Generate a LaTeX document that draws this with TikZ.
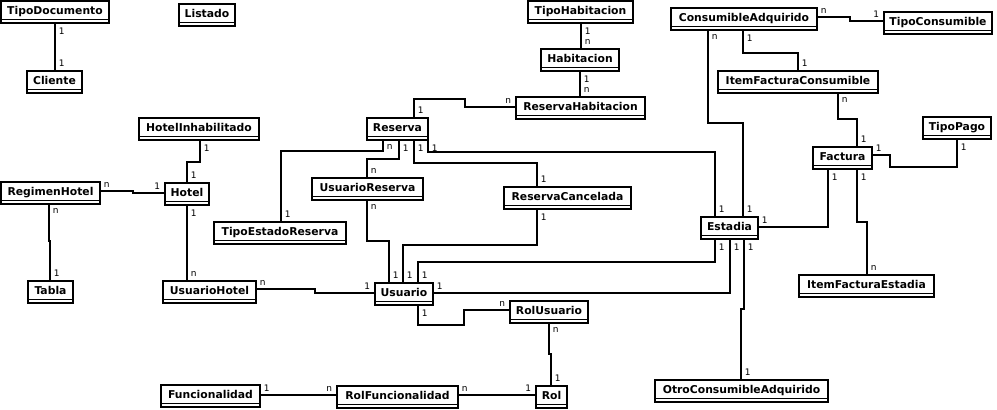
\documentclass[tikz,border=0pt]{standalone}
\usepackage{fontspec}
\setsansfont{DejaVu Sans}
\usepackage{tikz}

\begin{document}
\begin{tikzpicture}[x=1pt,y=-1pt]
    \tikzset{entity/.style={draw, rectangle, line width=1.8pt, anchor=north west, minimum height=22pt, inner sep=0pt, outer sep=0pt,
        text height=8pt, text depth=3pt, font=\sffamily\bfseries\fontsize{10.8}{12}\selectfont,
        path picture={\draw[line width=1.5pt] ([yshift=3.3pt]path picture bounding box.south west) -- ([yshift=3.3pt]path picture bounding box.south east);}},
    card/.style={inner sep=0pt, font=\sffamily\fontsize{9}{10}\selectfont},
    cb/.style={card, anchor=north west, xshift=3pt, yshift=-4pt},
    ct/.style={card, anchor=south west, xshift=3pt, yshift=4pt},
    cr/.style={card, anchor=south west, xshift=3pt, yshift=3pt},
    cl/.style={card, anchor=south east, xshift=-4pt, yshift=3pt},
    }
    \useasboundingbox (0,0) rectangle (997,410);
    \node [entity, minimum width=108pt] (tipodoc) at (1,1) {TipoDocumento};
    \node [entity, minimum width=56pt] (listado) at (179,4) {Listado};
    \node [entity, minimum width=55pt] (cliente) at (27,71) {Cliente};
    \node [entity, minimum width=105pt] (tipohab) at (528,1) {TipoHabitacion};
    \node [entity, minimum width=78pt] (habitacion) at (541,49) {Habitacion};
    \node [entity, minimum width=129pt] (reshab) at (516,97) {ReservaHabitacion};
    \node [entity, minimum width=61pt] (reserva) at (367,118) {Reserva};
    \node [entity, minimum width=120pt] (hotelinh) at (139,118) {HotelInhabilitado};
    \node [entity, minimum width=99pt] (reghotel) at (1,182) {RegimenHotel};
    \node [entity, minimum width=44pt] (hotel) at (165,183) {Hotel};
    \node [entity, minimum width=45pt] (tabla) at (28,281) {Tabla};
    \node [entity, minimum width=93pt] (usrhotel) at (163,281) {UsuarioHotel};
    \node [entity, minimum width=132pt] (tipoestado) at (214,222) {TipoEstadoReserva};
    \node [entity, minimum width=111pt] (usrreserva) at (312,178) {UsuarioReserva};
    \node [entity, minimum width=127pt] (rescancel) at (504,187) {ReservaCancelada};
    \node [entity, minimum width=58pt] (usuario) at (375,283) {Usuario};
    \node [entity, minimum width=78pt] (rolusuario) at (510,301) {RolUsuario};
    \node [entity, minimum width=31pt] (rol) at (536,386) {Rol};
    \node [entity, minimum width=121pt] (rolfunc) at (337,386) {RolFuncionalidad};
    \node [entity, minimum width=99pt] (funcionalidad) at (161,385) {Funcionalidad};
    \node [entity, minimum width=146pt] (consadq) at (671,8) {ConsumibleAdquirido};
    \node [entity, minimum width=108pt] (tipocons) at (884,12) {TipoConsumible};
    \node [entity, minimum width=160pt] (itemfaccons) at (718,71) {ItemFacturaConsumible};
    \node [entity, minimum width=59pt] (factura) at (813,147) {Factura};
    \node [entity, minimum width=68pt] (tipopago) at (923,117) {TipoPago};
    \node [entity, minimum width=57pt] (estadia) at (701,217) {Estadia};
    \node [entity, minimum width=135pt] (itemfacest) at (799,275) {ItemFacturaEstadia};
    \node [entity, minimum width=173pt] (otrocons) at (655,380) {OtroConsumibleAdquirido};

% paths
    \tikzset{every path/.append style={line width=1.8pt}}
    \draw (tipodoc.south -| 55,0) node[cb] {1} -- (cliente.north -| 55,0) node[ct] {1};
    \draw (hotelinh.south -| 200,0) node[cb] {1} |- (187,162) -- (hotel.north -| 187,0) node[ct] {1};
    \draw (reghotel.east |- 0,191) node[cr] {n} -| (133,193) -- (hotel.west |- 0,193) node[cl] {1};
    \draw (reghotel.south -| 49,0) node[cb] {n} |- (50,241) -- (tabla.north -| 50,0) node[ct] {1};
    \draw (hotel.south -| 187,0) node[cb] {1} -- (usrhotel.north -| 187,0) node[ct] {n};
    \draw (usrhotel.east |- 0,289) node[cr] {n} -| (315,293) -- (usuario.west |- 0,293) node[cl] {1};
    \draw (reshab.west |- 0,107) node[cl] {n} -| (465,99) -| (reserva.north -| 414,0) node[ct] {1};
    \draw (tipohab.south -| 581,0) node[cb] {1} -- (habitacion.north -| 581,0) node[ct] {n};
    \draw (habitacion.south -| 580,0) node[cb] {1} -- (reshab.north -| 580,0) node[ct] {n};
    \draw (reserva.south -| 383,0) node[cb] {n} |- (281,151) -- (tipoestado.north -| 281,0) node[ct] {1};
    \draw (reserva.south -| 399,0) node[cb] {1} |- (367,159) -- (usrreserva.north -| 367,0) node[ct] {n};
    \draw (reserva.south -| 414,0) node[cb] {1} |- (537,163) -- (rescancel.north -| 537,0) node[ct] {1};
    \draw (reserva.south -| 428,0) node[cb] {1} |- (715,152) -- (estadia.north -| 715,0) node[ct] {1};
    \draw (usrreserva.south -| 367,0) node[cb] {n} |- (389,241) -- (usuario.north -| 389,0) node[ct] {1};
    \draw (rescancel.south -| 537,0) node[cb] {1} |- (403,245) -- (usuario.north -| 403,0) node[ct] {1};
    \draw (usuario.north -| 418,0) node[ct] {1} |- (715,262) -- (estadia.south -| 715,0) node[cb] {1};
    \draw (usuario.east |- 0,293) node[cr] {1} -| (estadia.south -| 730,0) node[cb] {1};
    \draw (usuario.south -| 418,0) node[cb] {1} |- (464,325) |- (rolusuario.west |- 0,310) node[cl] {n};
    \draw (rolusuario.south -| 549,0) node[cb] {n} |- (551,354) -- (rol.north -| 551,0) node[ct] {1};
    \draw (rolfunc.east |- 0,395) node[cr] {n} -- (rol.west |- 0,395) node[cl] {1};
    \draw (funcionalidad.east |- 0,395) node[cr] {1} -- (rolfunc.west |- 0,395) node[cl] {n};
    \draw (consadq.east |- 0,17) node[cr] {n} -| (850,21) -- (tipocons.west |- 0,21) node[cl] {1};
    \draw (consadq.south -| 743,0) node[cb] {1} |- (798,53) -- (itemfaccons.north -| 798,0) node[ct] {1};
    \draw (consadq.south -| 708,0) node[cb] {n} |- (743,123) -- (estadia.north -| 743,0) node[ct] {1};
    \draw (itemfaccons.south -| 838,0) node[cb] {n} |- (857,119) -- (factura.north -| 857,0) node[ct] {1};
    \draw (factura.east |- 0,155) node[cr] {1} -| (890,167) -| (tipopago.south -| 957,0) node[cb] {1};
    \draw (estadia.east |- 0,227) node[cr] {1} -| (factura.south -| 828,0) node[cb] {1};
    \draw (factura.south -| 857,0) node[cb] {1} |- (867,222) -- (itemfacest.north -| 867,0) node[ct] {n};
    \draw (estadia.south -| 744,0) node[cb] {1} |- (741,309) -- (otrocons.north -| 741,0) node[ct] {1};
\end{tikzpicture}
\end{document}
